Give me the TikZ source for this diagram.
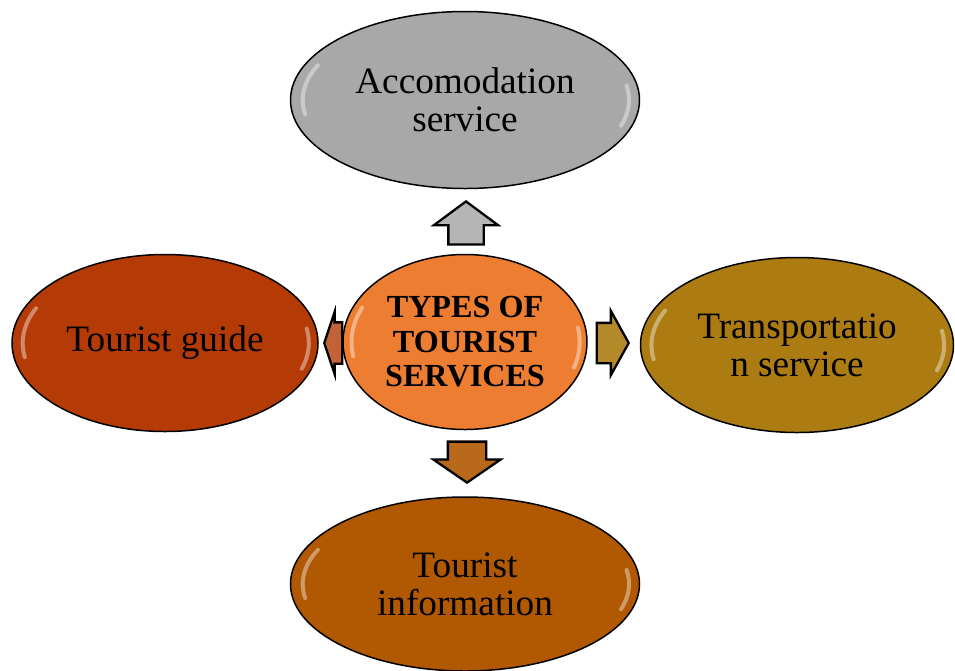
\documentclass[tikz,border=0pt]{standalone}
\usepackage{fontspec}
\setmainfont{Liberation Serif}
\usetikzlibrary{shapes.geometric,shapes.arrows}

\definecolor{accgray}{RGB}{168,168,168}
\definecolor{coreorange}{RGB}{237,125,49}
\definecolor{guidered}{RGB}{180,58,6}
\definecolor{transgold}{RGB}{172,124,18}
\definecolor{infobrown}{RGB}{176,88,2}

\tikzset{
  bubble/.style={ellipse, draw=black, line width=0.85pt, inner sep=0pt, align=center,
    font=\fontsize{21.2}{21.8}\selectfont},
  blockarr/.style={single arrow, draw=black, line width=1.3pt, inner xsep=0pt,
    anchor=tip, minimum height=#1},
  gloss/.style={white, opacity=.4, line width=0.8mm, line cap=round},
}

\begin{document}
\begin{tikzpicture}[x=0.2mm, y=-0.2mm]
\useasboundingbox (0,0) rectangle (955,670);

% the five bubbles
\node[bubble, fill=coreorange, minimum width=48.8mm, minimum height=35mm,
  font=\fontsize{18.3}{19.6}\selectfont\bfseries] (core) at (465,342) {TYPES OF\\TOURIST\\SERVICES};
\node[bubble, fill=accgray, minimum width=69.8mm, minimum height=35.4mm] (acc) at (465,100) {Accomodation\\service};
\node[bubble, fill=guidered, minimum width=61.2mm, minimum height=35.4mm] (guide) at (165,343) {Tourist guide};
\node[bubble, fill=transgold, minimum width=62.6mm, minimum height=35mm] (trans) at (797,345) {Transportatio\\n service};
\node[bubble, fill=infobrown, minimum width=69.8mm, minimum height=34.8mm] (info) at (465,584) {Tourist\\information};

% highlights on the rims
\foreach \n/\rx/\ry in {core/24.4/17.5, acc/34.9/17.7, guide/30.6/17.7, trans/31.3/17.5, info/34.9/17.4}{
  \draw[gloss] (\n.center) ++(155:{.93*\rx*1mm} and {.93*\ry*1mm})
    arc[start angle=155, end angle=190, x radius=.93*\rx*1mm, y radius=.93*\ry*1mm];
  \draw[gloss] (\n.center) ++(-18:{.94*\rx*1mm} and {.94*\ry*1mm})
    arc[start angle=-18, end angle=10, x radius=.94*\rx*1mm, y radius=.94*\ry*1mm];
}

% block arrows out of the centre
\node[blockarr=8.6mm, rotate=90, fill=accgray!85, inner ysep=3.3mm,
  single arrow head extend=2.9mm, single arrow tip angle=107] (ua) at (466,200) {};
\node[blockarr=3.6mm, rotate=180, fill=guidered!80!white, inner ysep=3.9mm,
  single arrow head extend=2.1mm, single arrow tip angle=143] (la) at (323,343) {};
\node[blockarr=6.4mm, fill=transgold!90!white, inner ysep=3.8mm,
  single arrow head extend=2.4mm, single arrow tip angle=122] (ra) at (630,343) {};
\node[blockarr=8.2mm, rotate=-90, fill=infobrown!90!white, inner ysep=3.6mm,
  single arrow head extend=2.9mm, single arrow tip angle=111] (da) at (467,484) {};
\end{tikzpicture}
\end{document}
